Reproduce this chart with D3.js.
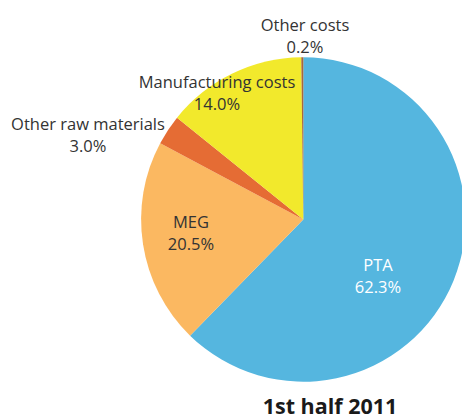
<!DOCTYPE html>
<html>
<head>
<meta charset="utf-8">
<script src="https://cdn.jsdelivr.net/npm/d3@7"></script>
<style>
  html, body { margin: 0; padding: 0; background: #fff; }
  svg text { font-family: "Open Sans", "Noto Sans", sans-serif; }
</style>
</head>
<body>
<svg id="chart" width="462" height="419"></svg>
<script>
// Cost breakdown, first half of 2011 (share of total, %)
const categories = ["PTA", "MEG", "Other raw materials", "Manufacturing costs", "Other costs"];
const shares = [62.3, 20.5, 3.0, 14.0, 0.2];
const colors = ["#55b6df", "#fbb861", "#e56c34", "#f2e92c", "#a8683c"];
const title = "1st half 2011";

// label anchor points (centre x, first-line baseline y) and text colours
const labelPos = [
  [378, 271], [191, 228], [88, 130], [217, 88], [305, 31]
];
const labelColors = ["#ffffff", "#333333", "#333333", "#333333", "#333333"];

const svg = d3.select("#chart");
const cx = 303.3, cy = 219.5, r = 162.2;

const pie = d3.pie().sort(null).value(d => d.value).startAngle(0).endAngle(2 * Math.PI);
const arc = d3.arc().innerRadius(0).outerRadius(r);
const color = d3.scaleOrdinal().domain(categories).range(colors);

const data = categories.map((c, i) => ({ name: c, value: shares[i] }));

const g = svg.append("g").attr("transform", `translate(${cx},${cy})`);
g.selectAll("path")
  .data(pie(data))
  .join("path")
  .attr("d", arc)
  .attr("fill", d => color(d.data.name));

const fmt = d3.format(".1f");
const labels = svg.append("g")
  .attr("font-size", 16.5)
  .attr("text-anchor", "middle");

data.forEach((d, i) => {
  const t = labels.append("text")
    .attr("x", labelPos[i][0])
    .attr("y", labelPos[i][1])
    .attr("fill", labelColors[i]);
  t.append("tspan").attr("x", labelPos[i][0]).text(d.name);
  t.append("tspan").attr("x", labelPos[i][0]).attr("dy", 22).text(fmt(d.value) + "%");
});

svg.append("text")
  .attr("x", 330)
  .attr("y", 414)
  .attr("text-anchor", "middle")
  .attr("font-size", 21.5)
  .attr("font-weight", "bold")
  .attr("fill", "#1a1a1a")
  .text(title);
</script>
</body>
</html>
